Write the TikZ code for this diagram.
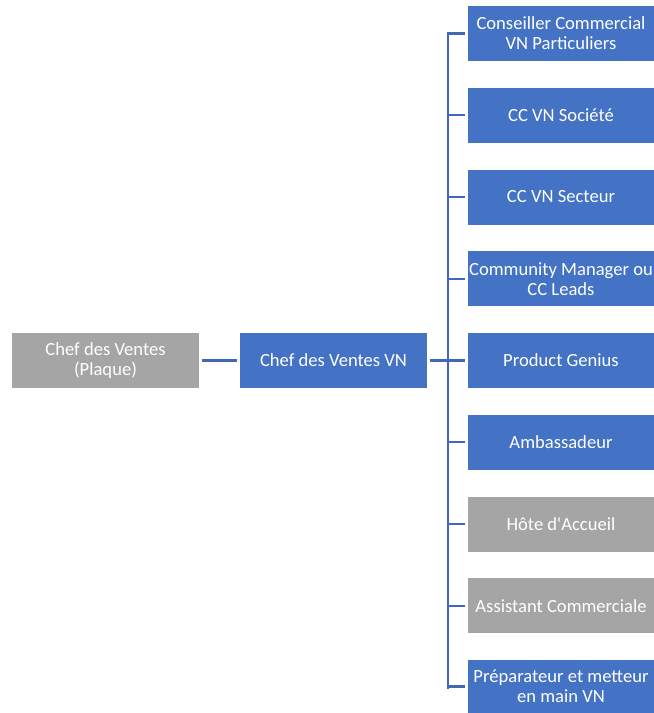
\documentclass[tikz,border=0pt]{standalone}
\usepackage{fontspec}
\setmainfont{Carlito}
\definecolor{bluebox}{HTML}{4472C4}
\definecolor{graybox}{HTML}{A5A5A5}
\definecolor{lineblue}{HTML}{4068B8}
\begin{document}
\begin{tikzpicture}[x=1pt,y=-1pt,
  box/.style={minimum width=187pt,minimum height=55pt,inner sep=0pt,align=center,text=white,
    font=\fontsize{18.6}{20}\selectfont},
  bbox/.style={box,fill=bluebox},
  gbox/.style={box,fill=graybox},
  rbox/.style={box,minimum width=186pt},
  conn/.style={draw=lineblue,line width=2.2pt}]
\useasboundingbox (0,0) rectangle (654,713);
\node[gbox] (chef) at (105.5,360.5) {Chef des Ventes\\(Plaque)};
\node[bbox] (vn) at (333.5,360.5) {Chef des Ventes VN};
\node[rbox,fill=bluebox] (r1) at (561,33.5) {Conseiller Commercial\\VN Particuliers};
\node[rbox,fill=bluebox] (r2) at (561,115.25) {CC VN Société};
\node[rbox,fill=bluebox] (r3) at (561,197) {CC VN Secteur};
\node[rbox,fill=bluebox] (r4) at (561,278.75) {Community Manager ou\\CC Leads};
\node[rbox,fill=bluebox] (r5) at (561,360.5) {Product Genius};
\node[rbox,fill=bluebox] (r6) at (561,442.25) {Ambassadeur};
\node[rbox,fill=graybox] (r7) at (561,524) {Hôte d\textquotesingle Accueil};
\node[rbox,fill=graybox] (r8) at (561,605.75) {Assistant Commerciale};
\node[rbox,fill=bluebox,minimum height=53pt] (r9) at (561,686.5) {Préparateur et metteur\\en main VN};
\coordinate (top) at (448,33.5);
\coordinate (bot) at (448,687.5);
\coordinate (hub) at (448,360.5);
\draw[conn,shorten <=3pt,shorten >=3pt] (chef.east) -- (vn.west);
\draw[conn,shorten <=3pt] (vn.east) -- (hub);
\draw[conn,line cap=rect] (top) -- (bot);
\foreach \n in {r1,r2,r3,r4,r5,r6,r7,r8,r9}{
  \draw[conn,shorten >=3pt] (top |- \n.west) -- (\n.west);
}
\end{tikzpicture}
\end{document}
